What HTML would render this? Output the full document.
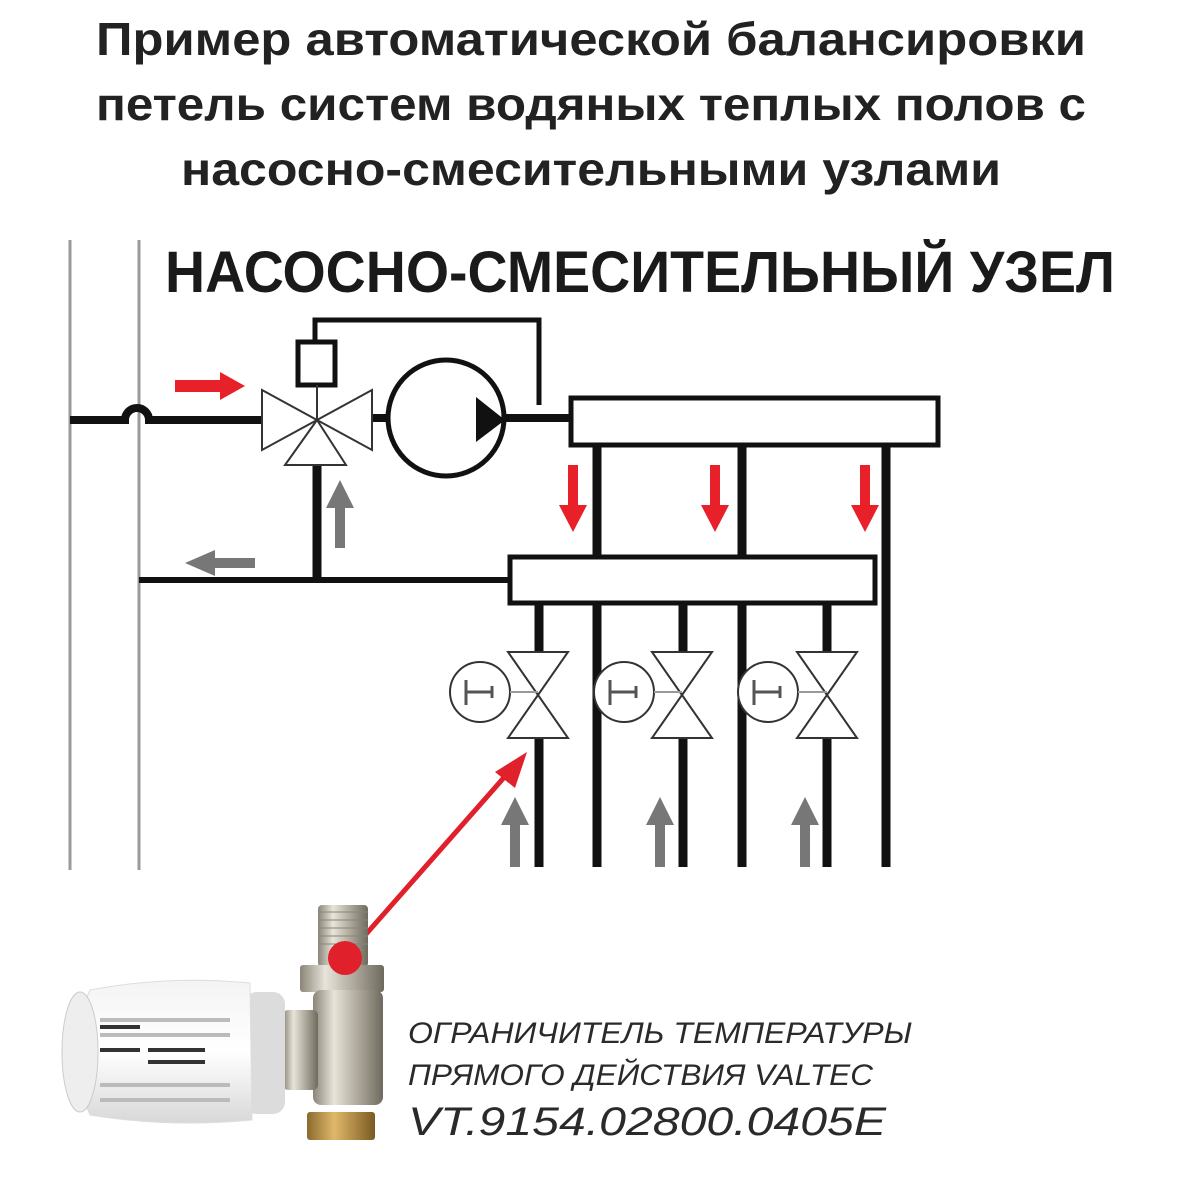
<!DOCTYPE html>
<html><head><meta charset="utf-8"><style>
html,body{margin:0;padding:0;background:#fff}
svg{display:block}
</style></head><body>
<svg width="1182" height="1182" viewBox="0 0 1182 1182" xmlns="http://www.w3.org/2000/svg">
<defs>
<linearGradient id="head" x1="0" y1="0" x2="0" y2="1">
<stop offset="0" stop-color="#f4f4f4"/><stop offset="0.5" stop-color="#ffffff"/><stop offset="1" stop-color="#d8d8d8"/>
</linearGradient>
<linearGradient id="metal" x1="0" y1="0" x2="1" y2="0">
<stop offset="0" stop-color="#8a8577"/><stop offset="0.3" stop-color="#e8e4da"/><stop offset="0.6" stop-color="#b5b0a3"/><stop offset="1" stop-color="#6f6a5e"/>
</linearGradient>
<linearGradient id="brass" x1="0" y1="0" x2="1" y2="0">
<stop offset="0" stop-color="#8a6a2e"/><stop offset="0.4" stop-color="#e0b86a"/><stop offset="1" stop-color="#7a5a22"/>
</linearGradient>
</defs>
<g font-family="'Liberation Sans','Noto Sans CJK SC',sans-serif" font-weight="bold" fill="#222" font-size="46" text-anchor="middle">
<text x="591" y="55" textLength="990" lengthAdjust="spacingAndGlyphs">Пример автоматической балансировки</text>
<text x="591" y="120" textLength="990" lengthAdjust="spacingAndGlyphs">петель систем водяных теплых полов с</text>
<text x="591" y="185" textLength="820" lengthAdjust="spacingAndGlyphs">насосно-смесительными узлами</text>
</g>
<text x="165" y="292" font-family="'Liberation Sans',sans-serif" font-weight="bold" font-size="58" fill="#1a1a1a" textLength="950" lengthAdjust="spacingAndGlyphs">НАСОСНО-СМЕСИТЕЛЬНЫЙ УЗЕЛ</text>
<g stroke="#9a9a9a" stroke-width="3"><line x1="70" y1="240" x2="70" y2="870"/><line x1="139" y1="240" x2="139" y2="870"/></g>
<g stroke="#111" fill="none">
<path d="M70 420 H125 A12 12 0 0 1 149 420 H262" stroke-width="8"/>
<path d="M315 342 V320 H539 V405" stroke-width="5"/>
<rect x="298" y="342" width="37" height="43" stroke-width="5" fill="#fff"/>
<line x1="340" y1="418" x2="388" y2="418" stroke-width="8"/>
<line x1="505" y1="418" x2="572" y2="418" stroke-width="8"/>
<circle cx="446" cy="418" r="58" stroke-width="5" fill="#fff"/>
<line x1="317" y1="465" x2="317" y2="583" stroke-width="9"/>
<line x1="139" y1="580" x2="512" y2="580" stroke-width="6"/>
<g stroke-width="9">
<line x1="597" y1="445" x2="597" y2="867"/><line x1="742" y1="445" x2="742" y2="867"/><line x1="886" y1="445" x2="886" y2="867"/>
<line x1="539" y1="603" x2="539" y2="652"/><line x1="539" y1="738" x2="539" y2="867"/>
<line x1="683" y1="603" x2="683" y2="652"/><line x1="683" y1="738" x2="683" y2="867"/>
<line x1="827" y1="603" x2="827" y2="652"/><line x1="827" y1="738" x2="827" y2="867"/>
</g>
<rect x="571" y="398" width="367" height="47" stroke-width="5" fill="#fff"/>
<rect x="510" y="557" width="365" height="46" stroke-width="5" fill="#fff"/>
</g>
<polygon points="476,397 505,420 476,442" fill="#111"/>
<g stroke="#333" stroke-width="2" fill="#fff">
<polygon points="262,390 317,420 262,450"/><polygon points="372,390 317,420 372,450"/>
<polygon points="317,420 285,465 346,465"/>
<line x1="317" y1="385" x2="317" y2="420"/>
</g>
<g stroke="#333" stroke-width="2" fill="#fff">
<polygon points="508,652 568,652 538,695 568,738 508,738 538,695"/>
<polygon points="652,652 712,652 682,695 712,738 652,738 682,695"/>
<polygon points="797,652 857,652 827,695 857,738 797,738 827,695"/>
<circle cx="480" cy="692" r="30"/><circle cx="624" cy="692" r="30"/><circle cx="768" cy="692" r="30"/>
<path d="M510 692 H538 M654 692 H682 M798 692 H827" stroke="#999"/>
<path d="M466 680 V705 M466 692 H492 M492 686 V698 M610 680 V705 M610 692 H636 M636 686 V698 M754 680 V705 M754 692 H780 M780 686 V698" stroke="#555" stroke-width="3"/>
</g>
<g fill="#e8202a">
<path d="M175 380 H220 V372 L245 386 L220 400 V392 H175 Z"/>
<path d="M568 465 H578 V505 H587 L573 532 L559 505 H568 Z"/>
<path d="M710 465 H720 V505 H729 L715 532 L701 505 H710 Z"/>
<path d="M860 465 H870 V505 H879 L865 532 L851 505 H860 Z"/>
</g>
<g fill="#777">
<path d="M335 548 H345 V508 H354 L340 480 L326 508 H335 Z"/>
<path d="M255 558 V568 H215 V576 L185 563 L215 550 V558 Z"/>
<path d="M510 867 H520 V825 H529 L515 797 L501 825 H510 Z"/>
<path d="M655 867 H665 V825 H674 L660 797 L646 825 H655 Z"/>
<path d="M800 867 H810 V825 H819 L805 797 L791 825 H800 Z"/>
</g>
<line x1="345" y1="958" x2="515" y2="765" stroke="#e0202a" stroke-width="5"/>
<polygon points="527,752 495,772 515,788" fill="#e0202a"/>
<!-- product -->
<rect x="318" y="905" width="50" height="62" rx="4" fill="url(#metal)"/>
<g stroke="#8a8578" stroke-width="1"><line x1="318" y1="912" x2="368" y2="912"/><line x1="318" y1="920" x2="368" y2="920"/><line x1="318" y1="928" x2="368" y2="928"/><line x1="318" y1="936" x2="368" y2="936"/><line x1="318" y1="944" x2="368" y2="944"/></g>
<rect x="300" y="965" width="84" height="27" rx="3" fill="url(#metal)"/>
<rect x="313" y="990" width="70" height="115" rx="8" fill="url(#metal)"/>
<rect x="283" y="1010" width="35" height="80" rx="5" fill="url(#metal)"/>
<rect x="307" y="1112" width="68" height="28" rx="3" fill="url(#brass)"/>
<rect x="245" y="992" width="40" height="122" rx="12" fill="#dcdcdc"/>
<path d="M90 990 Q170 975 250 983 L252 1120 Q170 1128 90 1115 Q62 1052 90 990 Z" fill="url(#head)" stroke="#ddd"/>
<ellipse cx="80" cy="1052" rx="18" ry="60" fill="#eee" stroke="#ccc"/>
<g stroke="#bbb" stroke-width="4">
<line x1="100" y1="1020" x2="230" y2="1020"/><line x1="100" y1="1035" x2="230" y2="1035"/><line x1="100" y1="1085" x2="230" y2="1085"/><line x1="100" y1="1100" x2="230" y2="1100"/>
</g>
<g stroke="#333" stroke-width="4"><line x1="100" y1="1027" x2="140" y2="1027"/><line x1="100" y1="1050" x2="140" y2="1050"/><line x1="148" y1="1050" x2="205" y2="1050"/><line x1="148" y1="1062" x2="205" y2="1062"/></g>
<circle cx="345" cy="958" r="17" fill="#e0202a"/>
<g font-family="'Liberation Sans',sans-serif" font-style="italic" fill="#2a2a2a">
<text x="408" y="1043" font-size="30" textLength="504" lengthAdjust="spacingAndGlyphs">ОГРАНИЧИТЕЛЬ ТЕМПЕРАТУРЫ</text>
<text x="408" y="1085" font-size="30" textLength="465" lengthAdjust="spacingAndGlyphs">ПРЯМОГО ДЕЙСТВИЯ VALTEC</text>
<text x="408" y="1135" font-size="40" textLength="478" lengthAdjust="spacingAndGlyphs">VT.9154.02800.0405E</text>
</g>
</svg>
</body></html>
